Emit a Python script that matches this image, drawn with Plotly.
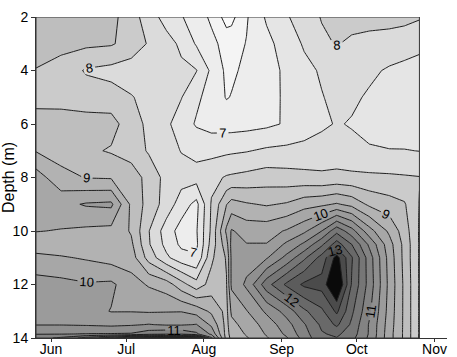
import plotly.graph_objects as go

# sampling days (day of year) and depths (m)
days = [146, 156, 166, 176, 184, 191, 198, 204, 210, 216, 222, 224, 230,
        238, 246, 253, 260, 266, 272, 279, 287, 293, 299]
depths = [2, 3, 4, 5, 6, 7, 8, 9, 10, 10.5, 11, 12, 13, 13.5, 13.85, 14]

# values per depth row
row_2m = [8.7, 8.7, 8.7, 8.65, 8.22, 7.75, 7.3, 7.03, 6.78, 6.4, 5.8, 5.85, 6.45,
          7.07, 7.45, 7.75, 8.03, 8.15, 8.2, 8.22, 8.2, 8.15, 8.05]
row_3m = [8.7, 8.65, 8.6, 8.55, 8.3, 7.95, 7.7, 7.4, 6.95, 6.65, 6.3, 6.3, 6.52,
          6.85, 7.25, 7.55, 7.9, 8.03, 7.9, 7.8, 7.75, 7.7, 7.6]
row_4m = [8.48, 8.3, 7.95, 7.85, 7.75, 7.7, 7.65, 7.6, 7.52, 6.9, 6.4, 6.42, 6.6,
          6.8, 7.1, 7.38, 7.55, 7.65, 7.65, 7.58, 7.45, 7.38, 7.35]
row_5m = [8.35, 8.3, 8.25, 8.2, 8.03, 7.85, 7.68, 7.52, 7.1, 6.8, 6.47, 6.52, 6.65,
          6.85, 7.07, 7.28, 7.48, 7.6, 7.57, 7.45, 7.3, 7.22, 7.2]
row_6m = [8.7, 8.75, 8.7, 8.7, 8.2, 7.9, 7.6, 7.25, 6.95, 6.82, 6.8, 6.8, 6.83,
          6.9, 7.05, 7.25, 7.42, 7.53, 7.47, 7.35, 7.25, 7.2, 7.18]
row_7m = [8.97, 8.8, 8.6, 8.45, 8.25, 7.95, 7.7, 7.48, 7.35, 7.35, 7.4, 7.42, 7.47,
          7.58, 7.62, 7.65, 7.7, 7.68, 7.62, 7.55, 7.52, 7.52, 7.49]
row_8m = [9.75, 9.15, 8.98, 8.95, 8.8, 8.3, 7.85, 7.7, 7.7, 7.85, 8.05, 8.08, 8.15,
          8.25, 8.2, 8.15, 8.1, 8.15, 8.12, 8.1, 8.08, 8.05, 8.02]
row_9m = [9.85, 9.85, 10.05, 10.1, 8.9, 8.3, 7.8, 7.25, 6.85, 8.05, 8.98, 9.2, 9.05,
          8.95, 9.05, 9.3, 9.4, 9.55, 9.35, 8.9, 8.7, 8.55, 7.98]
row_10m = [9.52, 9.47, 9.4, 9.35, 8.95, 8.02, 7.25, 6.8, 6.95, 8.1, 9.6, 10.05, 9.8,
           9.8, 10.05, 10.4, 11.0, 11.85, 11.2, 10.2, 9.4, 8.75, 7.95]
row_10_5m = [9.2, 9.2, 9.1, 9.1, 9.1, 8.05, 7.35, 6.9, 6.9, 8.2, 9.3, 10.15, 10.02,
             10.02, 10.6, 11.1, 11.9, 12.75, 12.0, 10.9, 9.7, 8.85, 7.95]
row_11m = [9.65, 9.55, 9.45, 9.3, 9.25, 8.3, 7.6, 7.2, 7.05, 8.4, 9.05, 10.1, 10.25,
           10.45, 11.15, 11.9, 12.7, 13.7, 12.55, 11.25, 9.8, 8.85, 7.95]
row_12m = [10.2, 10.15, 10.05, 10.1, 9.7, 9.45, 9.25, 8.7, 8.2, 8.7, 8.97, 10.1, 10.6,
           11.8, 12.6, 13.1, 13.2, 14.2, 12.45, 11.3, 9.85, 8.9, 7.95]
row_13m = [10.38, 10.33, 10.2, 9.98, 9.98, 9.95, 9.97, 9.98, 9.8, 9.4, 8.85, 9.6, 9.97,
           10.6, 11.2, 11.9, 12.4, 13.1, 12.1, 11.1, 9.8, 8.9, 7.95]
row_13_5m = [10.48, 10.48, 10.45, 10.4, 10.45, 10.52, 10.45, 10.45, 10.52, 9.9, 8.82, 9.35, 9.7,
             10.2, 10.8, 11.45, 12.1, 12.6, 11.9, 10.95, 9.75, 8.9, 7.95]
row_13_85m = [10.98, 10.98, 11.02, 11.03, 11.05, 11.3, 11.4, 11.4, 11.1, 10.4, 8.8, 9.2, 9.55,
              10.05, 10.6, 11.3, 11.95, 12.1, 11.75, 10.95, 9.7, 8.9, 7.95]
row_14m = [11.3, 11.6, 12.2, 12.8, 13.6, 13.9, 14.1, 14.2, 13.8, 11.1, 8.8, 9.1, 9.45,
           9.95, 10.45, 11.2, 11.9, 11.98, 11.65, 10.9, 9.7, 8.9, 7.95]

z = [row_2m, row_3m, row_4m, row_5m, row_6m, row_7m, row_8m, row_9m, row_10m,
     row_10_5m, row_11m, row_12m, row_13m, row_13_5m, row_13_85m, row_14m]

month_ticks = [152, 182, 213, 244, 274, 305]
month_labels = ["Jun", "Jul", "Aug", "Sep", "Oct", "Nov"]
depth_ticks = [2, 4, 6, 8, 10, 12, 14]

# grey levels for the bands (<6, 6-6.5, ..., >13.5)
greys = [250, 244, 237, 229, 219, 203, 190, 178, 167, 155, 143, 131, 118, 105, 92, 75, 10]
n = len(greys)
colorscale = [[i / (n - 1), f"rgb({g},{g},{g})"] for i, g in enumerate(greys)]

FONT = "Liberation Sans, Arial, sans-serif"
LINE = "#1e1e1e"

fig = go.Figure()
fig.add_trace(go.Contour(
    x=days, y=depths, z=z, autocontour=False,
    contours=dict(start=6, end=13.5, size=0.5, coloring="fill", showlines=False),
    colorscale=colorscale, showscale=False,
    line=dict(width=0, smoothing=0), hoverinfo="skip"))
fig.add_trace(go.Contour(
    x=days, y=depths, z=z, autocontour=False,
    contours=dict(start=6.5, end=13.5, size=1, coloring="none", showlines=True),
    showscale=False, line=dict(color=LINE, width=1, smoothing=0), hoverinfo="skip"))
fig.add_trace(go.Contour(
    x=days, y=depths, z=z, autocontour=False,
    contours=dict(start=6, end=13, size=1, coloring="none", showlines=True,
                  showlabels=True, labelfont=dict(size=13, color="black", family=FONT)),
    showscale=False, line=dict(color=LINE, width=1, smoothing=0), hoverinfo="skip"))

fig.add_shape(type="rect", xref="x", yref="y",
              x0=days[0], x1=days[-1], y0=depths[0], y1=depths[-1],
              line=dict(color="#333333", width=1), layer="above")

fig.update_layout(
    width=457, height=357,
    margin=dict(l=36, r=10, t=17, b=19),
    paper_bgcolor="white", plot_bgcolor="white",
    font=dict(family=FONT, size=14, color="black"),
    showlegend=False,
    xaxis=dict(range=[146, 310], tickvals=month_ticks, ticktext=month_labels,
               showline=True, linecolor="#333333", linewidth=1,
               ticks="outside", ticklen=3, tickcolor="#333333",
               ticklabelstandoff=-5,
               showgrid=False, zeroline=False, automargin=False,
               tickfont=dict(size=14)),
    yaxis=dict(range=[14, 2], tickvals=depth_ticks,
               showline=True, linecolor="#333333", linewidth=1,
               ticks="outside", ticklen=4, tickcolor="#333333",
               showgrid=False, zeroline=False, automargin=False,
               tickfont=dict(size=14),
               title=dict(text="Depth (m)", font=dict(size=16), standoff=2)),
)

fig.write_html("out.html", config={"displayModeBar": False},
               post_script="document.body.style.margin='0px';document.body.style.overflow='hidden';")
